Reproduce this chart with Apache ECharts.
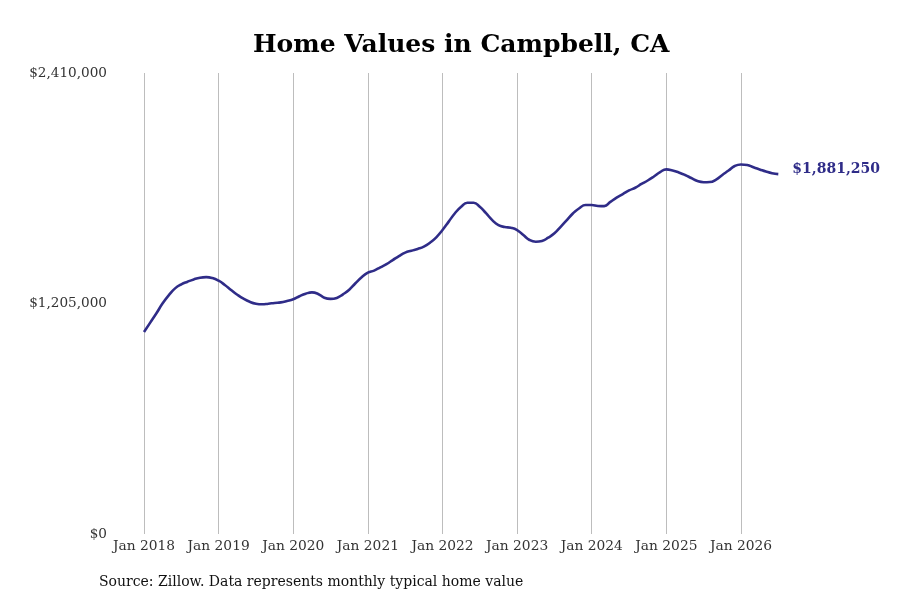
<!DOCTYPE html>
<html>
<head>
<meta charset="utf-8">
<title>Home Values in Campbell, CA</title>
<script src="https://cdn.jsdelivr.net/npm/echarts@6/dist/echarts.min.js"></script>
<style>
    html, body { margin: 0; padding: 0; background: #fff; }
    #chart { width: 900px; height: 600px; }
</style>
</head>
<body>
<div id="chart"></div>
<script>
// monthly typical home value, Jan 2018 - Jul 2026
const months = [];
for (let y = 2018; y <= 2026; y++) {
    for (let m = 1; m <= 12; m++) {
        if (y === 2026 && m > 7) break;
        months.push(y + '-' + (m < 10 ? '0' + m : m));
    }
}
const monthNames = ['Jan', 'Feb', 'Mar', 'Apr', 'May', 'Jun', 'Jul', 'Aug', 'Sep', 'Oct', 'Nov', 'Dec'];

const values2018to2020 = [
    1056000, 1105000, 1154000, 1206000, 1249000, 1284000, 1305000, 1319000, 1331000, 1340000, 1343000, 1338000,
    1324000, 1302000, 1276000, 1251000, 1230000, 1214000, 1204000, 1201000, 1204000, 1208000, 1211000, 1218000,
    1227000, 1243000, 1256000, 1263000, 1255000, 1235000, 1229000, 1234000, 1253000, 1277000, 1311000, 1342000
];
const values2021to2023 = [
    1366000, 1377000, 1394000, 1411000, 1432000, 1453000, 1471000, 1481000, 1490000, 1502000, 1523000, 1551000,
    1589000, 1633000, 1677000, 1711000, 1732000, 1732000, 1711000, 1677000, 1641000, 1615000, 1605000, 1601000,
    1589000, 1563000, 1537000, 1528000, 1532000, 1549000, 1572000, 1606000, 1641000, 1677000, 1703000, 1720000
];
const values2024to2026 = [
    1720000, 1715000, 1714000, 1736000, 1759000, 1777000, 1796000, 1810000, 1830000, 1848000, 1869000, 1892000,
    1906000, 1900000, 1890000, 1877000, 1861000, 1845000, 1839000, 1840000, 1853000, 1877000, 1900000, 1924000,
    1932000, 1929000, 1917000, 1906000, 1895000, 1886000, 1881250
];
const values = values2018to2020.concat(values2021to2023, values2024to2026);

const yTicks = [0, 1205000, 2410000];

const lineColor = '#2f2c88';
const serif = '"DejaVu Serif", serif';

function money(v) {
    return '$' + Math.round(v).toLocaleString('en-US');
}
function isJan(i) {
    return months[i].slice(5) === '01';
}

const myChart = echarts.init(document.getElementById('chart'));
myChart.setOption({
    animation: false,
    backgroundColor: '#fff',
    title: [{
        text: 'Home Values in Campbell, CA',
        left: 248,
        top: 28,
        textStyle: {
            fontFamily: serif,
            fontWeight: 'bold',
            fontSize: 25,
            color: '#000'
        }
    }, {
        text: 'Source: Zillow. Data represents monthly typical home value',
        left: 94,
        top: 570,
        textStyle: {
            fontFamily: serif,
            fontWeight: 'normal',
            fontSize: 14,
            color: '#111'
        }
    }],
    grid: {
        left: 144,
        right: 121.7,
        top: 73,
        bottom: 66
    },
    xAxis: {
        type: 'category',
        boundaryGap: false,
        data: months,
        axisLine: { show: false },
        axisTick: { show: false },
        splitLine: {
            show: true,
            interval: (i) => isJan(i),
            lineStyle: { color: '#bdbdbd', width: 1 }
        },
        axisLabel: {
            interval: (i) => isJan(i),
            formatter: (v) => monthNames[parseInt(v.slice(5), 10) - 1] + ' ' + v.slice(0, 4),
            fontFamily: serif,
            fontSize: 13.8,
            color: '#333',
            margin: 5
        }
    },
    yAxis: {
        type: 'value',
        min: yTicks[0],
        max: yTicks[yTicks.length - 1],
        interval: yTicks[1] - yTicks[0],
        axisLine: { show: false },
        axisTick: { show: false },
        splitLine: { show: false },
        axisLabel: {
            formatter: (v) => money(v),
            fontFamily: serif,
            fontSize: 13.6,
            color: '#333',
            margin: 37
        }
    },
    series: [{
        type: 'line',
        data: values,
        smooth: 0.5,
        showSymbol: false,
        lineStyle: { color: lineColor, width: 2.6 },
        itemStyle: { color: lineColor },
        endLabel: {
            show: true,
            formatter: (p) => money(p.value),
            distance: 14,
            fontFamily: serif,
            fontWeight: 'bold',
            fontSize: 14,
            color: lineColor,
            offset: [0, -5]
        }
    }]
});
</script>
</body>
</html>
